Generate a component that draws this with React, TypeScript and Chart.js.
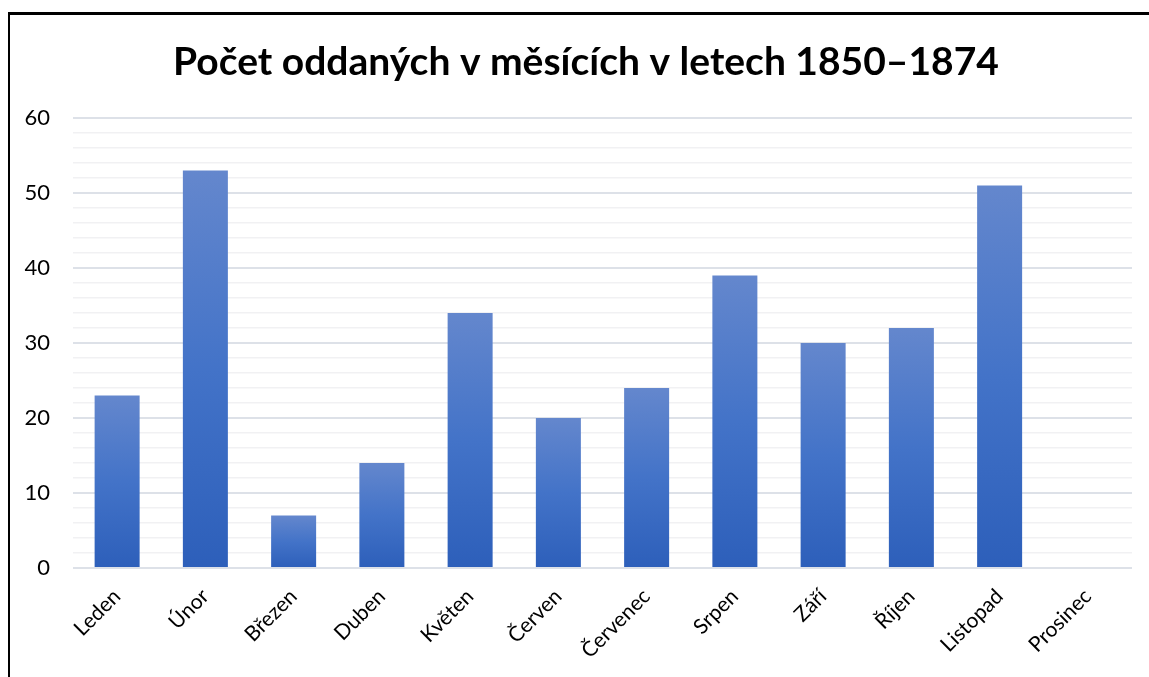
import React, { useEffect, useRef } from "react";
import { Chart, registerables } from "chart.js";

Chart.register(...registerables);

const categories = ["Leden", "Únor", "Březen", "Duben", "Květen", "Červen", "Červenec", "Srpen", "Září", "Říjen", "Listopad", "Prosinec"];
const values = [23, 53, 7, 14, 34, 20, 24, 39, 30, 32, 51, 0];
const titleText = "Počet oddaných v měsících v letech 1850–1874";
const yMin = 0;
const yMax = 60;
const yStep = 2;
const yLabelStep = 10;

const titlePlugin = {
  id: "centeredTitle",
  afterDraw(chart: any) {
    const ctx = chart.ctx;
    ctx.save();
    ctx.fillStyle = "#000000";
    ctx.font = "bold 39px Lato";
    ctx.textAlign = "center";
    ctx.textBaseline = "middle";
    ctx.fillText(titleText, 576, 47.4);
    ctx.restore();
  },
};

export default function App() {
  const ref = useRef<HTMLCanvasElement | null>(null);

  useEffect(() => {
    document.body.style.overflow = "hidden";
    if (!ref.current) return;
    const chart = new Chart(ref.current, {
      type: "bar",
      data: {
        labels: categories,
        datasets: [
          {
            data: values,
            backgroundColor: (ctx: any) => {
              const c = ctx.chart;
              const ys = c.scales && c.scales.y;
              if (!c.chartArea || !ys || ctx.raw == null) return "#4472c4";
              const top = ys.getPixelForValue(ctx.raw);
              const bottom = ys.getPixelForValue(0);
              if (Math.abs(bottom - top) < 1) return "#4472c4";
              const g = c.ctx.createLinearGradient(0, top, 0, bottom);
              g.addColorStop(0, "#6487cd");
              g.addColorStop(0.5, "#4373c8");
              g.addColorStop(1, "#2d5fba");
              return g;
            },
            borderWidth: 0,
            barPercentage: 1,
            categoryPercentage: 0.51,
          },
        ],
      },
      plugins: [titlePlugin],
      options: {
        animation: false,
        responsive: false,
        maintainAspectRatio: false,
        layout: { padding: { left: 0, right: 17, top: 103, bottom: 0 } },
        plugins: {
          legend: { display: false },
          tooltip: { enabled: false },
          title: { display: false },
        },
        scales: {
          x: {
            grid: { display: false },
            border: { display: false },
            ticks: {
              color: "#000000",
              font: { family: "Lato", size: 21 },
              minRotation: 45,
              maxRotation: 45,
              autoSkip: false,
              padding: 8,
            },
            afterFit: (s: any) => {
              s.height = 109;
            },
          },
          y: {
            min: yMin,
            max: yMax,
            border: { display: false },
            grid: {
              drawTicks: false,
              color: (ctx: any) => (ctx.tick && ctx.tick.value % yLabelStep === 0 ? "#dde1e8" : "#f1f1f3"),
              lineWidth: (ctx: any) => (ctx.tick && ctx.tick.value % yLabelStep === 0 ? 2 : 1.5),
            },
            ticks: {
              stepSize: yStep,
              autoSkip: false,
              color: "#000000",
              font: { family: "Lato", size: 22 },
              padding: 23,
              callback: (v: any) => (Number(v) % yLabelStep === 0 ? String(v) : ""),
            },
            afterFit: (s: any) => {
              s.width = 63;
            },
          },
        },
      },
    });
    return () => chart.destroy();
  }, []);

  return (
    <div
      style={{
        position: "fixed",
        top: 12,
        left: 8,
        borderTop: "3px solid #000",
        borderLeft: "2px solid #000",
        width: 1160,
        height: 680,
        boxSizing: "border-box",
        overflow: "hidden",
      }}
    >
      <canvas ref={ref} width={1139} height={662} style={{ display: "block" }} />
    </div>
  );
}
